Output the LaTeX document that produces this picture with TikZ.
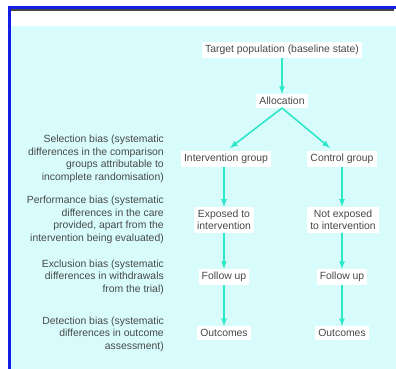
\documentclass[tikz,border=0pt]{standalone}
\usepackage{fontspec}
\setmainfont{Liberation Sans}
\usepackage{xcolor}
\usetikzlibrary{arrows,positioning,calc}

\definecolor{framec}{RGB}{20,30,230}
\definecolor{rulec}{RGB}{70,70,70}
\definecolor{panelc}{RGB}{216,252,252}
\definecolor{flowc}{RGB}{45,232,200}
\definecolor{txtc}{RGB}{72,72,72}

\begin{document}
\begin{tikzpicture}[x=1pt,y=-1pt,
	box/.style={fill=white,inner sep=3pt,align=center,text=txtc,font=\fontsize{10.4}{12.5}\selectfont},
	bias/.style={anchor=east,inner sep=0pt,align=right,text=txtc,font=\fontsize{10.4}{12.5}\selectfont},
	flow/.style={-latex,line width=1.6pt,draw=flowc}]
		\useasboundingbox (0,0) rectangle (396,369);
		% panel and frame
		\fill[panelc] (11,26) rectangle (396,369);
		\fill[rulec] (8,9.5) rectangle (394,11.5);
		\fill[framec] (8,6) rectangle (396,9.5);
		\fill[framec] (8,6) rectangle (11,369);
		% flow boxes
		\node[box] (target) at (282,50) {Target population (baseline state)};
		\node[box] (alloc) at (282,101) {Allocation};
		\node[box] (igroup) at (226,159) {Intervention group};
		\node[box] (cgroup) at (342,159) {Control group};
		\node[box] (iexp) at (224,220) {Exposed to\\intervention};
		\node[box] (cexp) at (343,220) {Not exposed\\to intervention};
		\node[box] (ifol) at (224,277) {Follow up};
		\node[box] (cfol) at (342,277) {Follow up};
		\node[box] (iout) at (224,333) {Outcomes};
		\node[box] (cout) at (342,333) {Outcomes};
		% bias labels
		\node[bias] (selbias) at (164,159) {Selection bias (systematic\\differences in the comparison\\groups attributable to\\incomplete randomisation)};
		\node[bias] (perbias) at (164,220) {Performance bias (systematic\\differences in the care\\provided, apart from the\\intervention being evaluated)};
		\node[bias] (excbias) at (164,277) {Exclusion bias (systematic\\differences in withdrawals\\from the trial)};
		\node[bias] (detbias) at (164,334) {Detection bias (systematic\\differences in outcome\\assessment)};
		% arrows
		\draw[flow] (target) -- (alloc);
		\draw[flow] (alloc.south) -- ([xshift=4pt,yshift=3pt]igroup.north);
		\draw[flow] (alloc.south) -- ([xshift=-12pt,yshift=3pt]cgroup.north);
		\draw[flow] (iexp.north |- igroup.south) -- (iexp.north);
		\draw[flow] (cgroup.south) -- (cgroup.south |- cexp.north);
		\draw[flow] (iexp) -- (ifol);
		\draw[flow] (cfol.north |- cexp.south) -- (cfol.north);
		\draw[flow] (ifol) -- (iout);
		\draw[flow] (cfol) -- (cout);
\end{tikzpicture}
\end{document}
